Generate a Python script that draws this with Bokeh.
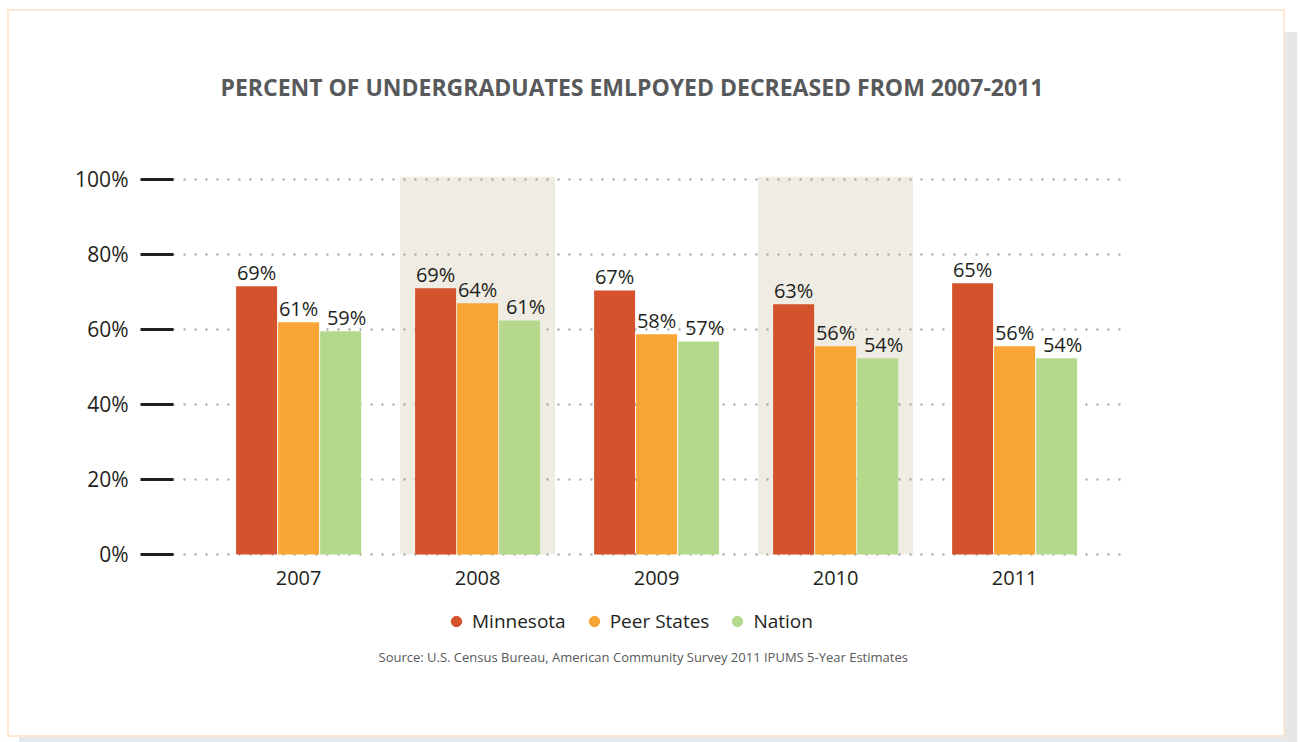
from bokeh.plotting import figure
from bokeh.models import Range1d, FixedTicker, Legend, LegendItem, Title, ColumnDataSource
from bokeh.core.properties import value
from bokeh.embed import file_html
from bokeh.resources import INLINE

# ---------------- data ----------------
years = ["2007", "2008", "2009", "2010", "2011"]
series = ["Minnesota", "Peer States", "Nation"]
minnesota = [71.5, 71.0, 70.4, 66.7, 72.3]
peer_states = [61.9, 67.0, 58.7, 55.5, 55.5]
nation = [59.5, 62.4, 56.8, 52.3, 52.3]
minnesota_labels = ["69%", "69%", "67%", "63%", "65%"]
peer_labels = ["61%", "64%", "58%", "56%", "56%"]
nation_labels = ["59%", "61%", "57%", "54%", "54%"]
shaded_years = ["2008", "2010"]
y_ticks = [0, 20, 40, 60, 80, 100]
y_tick_labels = ["0%", "20%", "40%", "60%", "80%", "100%"]
title_text = "PERCENT OF UNDERGRADUATES EMLPOYED DECREASED FROM 2007-2011"
source_text = "Source: U.S. Census Bureau, American Community Survey 2011 IPUMS 5-Year Estimates"

colors = ["#d4522c", "#f8a535", "#b4d88c"]
FONT = "Open Sans"
TXT = "#231f20"
GREY = "#58595b"

idx = list(range(len(years)))
px_per_unit = 179.0
offset = 42.0 / px_per_unit
bar_w = 41.0 / px_per_unit
Y_TOP = 100.8
Y_BOTTOM = -24.3   # room for year labels and legend inside the frame

p = figure(width=1278, height=728,
           x_range=Range1d(-0.6989, 4.6306), y_range=Range1d(Y_BOTTOM, Y_TOP),
           output_backend="svg", toolbar_location=None, x_axis_location=None,
           min_border_left=164, min_border_right=160,
           min_border_top=165, min_border_bottom=94,
           outline_line_color=None, background_fill_color="white",
           border_fill_color="white")
p.styles = {"border": "2px solid #fde9d3", "margin-left": "7px", "margin-top": "9px",
            "box-shadow": "12px 23px 0 0 #e6e7e8"}

# shaded bands behind grid
band_x = [years.index(y) for y in shaded_years]
p.vbar(x=band_x, top=[Y_TOP] * len(band_x), bottom=0, width=155.0 / px_per_unit,
       fill_color="#efece4", line_color=None, level="image")

# bars
for vals, off, col in [(minnesota, -offset, colors[0]), (peer_states, 0.0, colors[1]), (nation, offset, colors[2])]:
    src = ColumnDataSource(dict(x=[i + off for i in idx], top=vals))
    p.vbar(x="x", top="top", bottom=0, width=bar_w, source=src, fill_color=col, line_color=None)

# value labels
for vals, labs, off, xo in [(minnesota, minnesota_labels, -offset, 0), (peer_states, peer_labels, 0.0, 0),
                             (nation, nation_labels, offset, 6)]:
    src = ColumnDataSource(dict(x=[i + off for i in idx], y=vals, t=labs))
    p.text(x="x", y="y", text="t", source=src, text_align="center", text_baseline="bottom",
           x_offset=xo, text_font=value(FONT), text_font_size="20px", text_color=TXT)

# category (year) labels under the bars
ysrc = ColumnDataSource(dict(x=idx, y=[0] * len(idx), t=years))
p.text(x="x", y="y", text="t", source=ysrc, text_align="center", text_baseline="middle",
       y_offset=24, text_font=value(FONT), text_font_size="20px", text_color=TXT)

# grid
p.xgrid.visible = False
p.ygrid.grid_line_color = "#a7a9ac"
p.ygrid.grid_line_width = 2.4
p.ygrid.grid_line_dash = "0 11"
p.ygrid.grid_line_cap = "round"

# y axis
p.yaxis.ticker = FixedTicker(ticks=y_ticks)
p.yaxis.major_label_overrides = dict(zip(y_ticks, y_tick_labels))
p.yaxis.axis_line_color = None
p.yaxis.minor_tick_line_color = None
p.yaxis.major_tick_out = 33
p.yaxis.major_tick_in = 0
p.yaxis.major_tick_line_width = 3
p.yaxis.major_tick_line_color = TXT
p.yaxis.major_label_standoff = 12
p.yaxis.major_label_text_font = FONT
p.yaxis.major_label_text_font_size = "21px"
p.yaxis.major_label_text_color = TXT

# legend (circle renderers without visible points)
items = []
nan = float("nan")
for name, col in zip(series, colors):
    r = p.scatter(x=[nan], y=[nan], marker="circle", fill_color=col, line_color=col, size=11)
    items.append(LegendItem(label=name, renderers=[r]))
legend = Legend(items=items, orientation="horizontal", location=(270, 9),
                glyph_width=26, glyph_height=30, label_standoff=3, spacing=15,
                padding=0, margin=0, border_line_color=None, background_fill_alpha=0,
                label_text_font=FONT, label_text_font_size="19px", label_text_color=TXT)
p.add_layout(legend)

# title (with spacer close to the frame)
spacer = Title(text=" ", text_font_size="10px", standoff=5)
p.add_layout(spacer, "above")
title = Title(text=title_text, align="left", offset=47, standoff=112,
              text_font=FONT, text_font_style="bold", text_font_size="23px", text_color=GREY)
p.add_layout(title, "above")

# source
src_title = Title(text=source_text, align="left", offset=205, standoff=0,
                  text_font=FONT, text_font_style="normal", text_font_size="13px", text_color=GREY)
p.add_layout(src_title, "below")

open("out.html", "w").write(file_html(p, INLINE))
